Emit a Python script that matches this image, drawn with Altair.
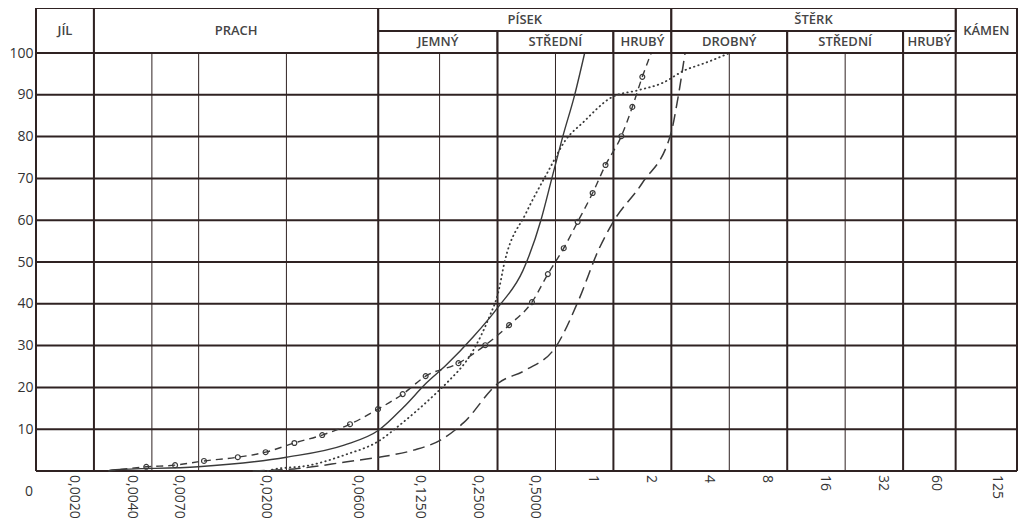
import math
import altair as alt
import pandas as pd

# ---------------- data ----------------
# vertical grid lines (grain size, mm) and their weight
grid_x = [0.001, 0.002, 0.004, 0.007, 0.02, 0.06, 0.125, 0.25, 0.5, 1, 2, 4, 8, 16, 32, 60, 125]
grid_w = [2, 2, 1, 1, 1, 2, 1, 2, 1, 2, 2, 1, 2, 1, 2, 2, 2]

# x tick labels
tick_x = [0.002, 0.004, 0.007, 0.02, 0.06, 0.125, 0.25, 0.5, 1, 2, 4, 8, 16, 32, 60, 125]
tick_lbl = ["0,0020", "0,0040", "0,0070", "0,0200", "0,0600", "0,1250", "0,2500",
            "0,5000", "1", "2", "4", "8", "16", "32", "60", "125"]

# horizontal grid lines (percent passing)
grid_y = [0, 10, 20, 30, 40, 50, 60, 70, 80, 90, 100]
y_lbl = [10, 20, 30, 40, 50, 60, 70, 80, 90, 100]

# header cells
full_names = ["JÍL", "PRACH", "KÁMEN"]
full_from = [0.001, 0.002, 60]
full_to = [0.002, 0.06, 125]
top_names = ["PÍSEK", "ŠTĚRK"]
top_from = [0.06, 2]
top_to = [2, 60]
sub_names = ["JEMNÝ", "STŘEDNÍ", "HRUBÝ", "DROBNÝ", "STŘEDNÍ", "HRUBÝ"]
sub_from = [0.06, 0.25, 1, 2, 8, 32]
sub_to = [0.25, 1, 2, 8, 32, 60]

# curves (grain size mm, percent)
solid_x = [0.00238, 0.00247, 0.00695, 0.0200, 0.0399, 0.0605, 0.0814, 0.1070, 0.1357,
           0.1871, 0.2518, 0.3391, 0.4201, 0.4787, 0.5457, 0.6293, 0.709]
solid_y = [0, 0.24, 1.0, 3.3, 6.2, 9.8, 15.3, 21.1, 25.4, 32.1, 39.2, 48, 60, 70, 80,
           90, 100]

dotted_x = [0.0160, 0.01655, 0.02663, 0.0399, 0.0605, 0.0776, 0.1205, 0.1357, 0.1871,
            0.2263, 0.2518, 0.2720, 0.3514, 0.4618, 0.565, 0.692, 0.989, 1.347, 1.792,
            2.356, 2.988, 4.022]
dotted_y = [0, 0.24, 1.4, 3.8, 7.2, 11, 18.7, 21, 28.9, 36.8, 42.6, 50, 61.7, 72, 79.2,
            83.3, 89.5, 91.1, 92.8, 95.9, 97.6, 100]

dashed_x = [0.01336, 0.0220, 0.0413, 0.0605, 0.0917, 0.1264, 0.1662, 0.2518, 0.3514,
            0.502, 0.660, 0.837, 0.989, 1.413, 1.994, 2.141, 2.356]
dashed_y = [0, 0.5, 2.2, 3.3, 5, 7.4, 11.5, 21, 24.2, 29.7, 40.9, 52.9, 59.3, 68.9,
            80.9, 88, 100]

circ_x = [0.00238, 0.00374, 0.00528, 0.00746, 0.01118, 0.01559, 0.0220, 0.0307, 0.0428,
          0.0598, 0.0804, 0.1058, 0.1566, 0.2158, 0.2871, 0.3775, 0.4565, 0.552, 0.652,
          0.780, 0.910, 1.100, 1.254, 1.413, 1.572]
circ_y = [0, 1, 1.4, 2.4, 3.3, 4.5, 6.7, 8.6, 11.2, 14.8, 18.4, 22.7, 25.8, 30.1, 34.9,
          40.4, 47.1, 53.3, 59.6, 66.5, 73.2, 80.1, 87.1, 94.3, 100]
circ_marker = [False] + [True] * 23 + [False]

# ---------------- styling ----------------
W, H = 981, 418
GRID = "#2f2222"
LINE = "#3a3a3a"
TXT = "#454545"
FONT = "Open Sans"

xs = alt.Scale(type="log", domain=[0.001, 125], nice=False)
ys = alt.Scale(domain=[0, 100], nice=False)

def gmean(a, b):
    return math.sqrt(a * b)

vgrid = pd.DataFrame({"x": grid_x, "w": grid_w})
hgrid = pd.DataFrame({"y": grid_y})
ticks = pd.DataFrame({"x": tick_x, "t": tick_lbl})

v_rules = alt.Chart(vgrid).mark_rule(color=GRID).encode(
    x=alt.X("x:Q", scale=xs, axis=None),
    y=alt.datum(0, scale=ys),
    y2=alt.datum(100),
    strokeWidth=alt.StrokeWidth("w:Q", scale=None),
)

h_rules = alt.Chart(hgrid).mark_rule(color=GRID, strokeWidth=2).encode(
    x=alt.datum(0.001),
    x2=alt.datum(125),
    y=alt.Y("y:Q", scale=ys,
            axis=alt.Axis(values=y_lbl, title=None, domain=False, ticks=False, grid=False,
                          labelFont=FONT, labelFontSize=14, labelColor="#333333",
                          labelPadding=3)),
)

# header
hdr_full = pd.DataFrame({"n": full_names, "a": full_from, "b": full_to,
                         "m": [gmean(a, b) for a, b in zip(full_from, full_to)]})
hdr_top = pd.DataFrame({"n": top_names, "a": top_from, "b": top_to,
                        "m": [gmean(a, b) for a, b in zip(top_from, top_to)]})
hdr_sub = pd.DataFrame({"n": sub_names, "a": sub_from, "b": sub_to,
                        "m": [gmean(a, b) for a, b in zip(sub_from, sub_to)]})

def hdr_cells(df, y0, y1):
    return alt.Chart(df).mark_rect(fill="white", stroke=GRID, strokeWidth=2).encode(
        x="a:Q", x2="b:Q", y=alt.value(y0), y2=alt.value(y1))

def hdr_text(df, yy):
    return alt.Chart(df).mark_text(font=FONT, fontSize=13, fontWeight=600, color=TXT,
                                   baseline="middle", align="center").encode(
        x="m:Q", y=alt.value(yy), text="n:N")

header = (hdr_cells(hdr_full, -45, 0) + hdr_cells(hdr_top, -45, -22) +
          hdr_cells(hdr_sub, -22, 0) + hdr_text(hdr_full, -22) +
          hdr_text(hdr_top, -33) + hdr_text(hdr_sub, -11))

# x labels
x_text = alt.Chart(ticks).mark_text(font=FONT, fontSize=14, color="#333333", angle=90,
                                    align="left", baseline="middle", dx=4, dy=20).encode(
    x="x:Q", y=alt.datum(0), text="t:N")

zero_text = alt.Chart(pd.DataFrame({"x": [0.001], "t": ["0"]})).mark_text(
    font=FONT, fontSize=14, color="#333333", align="center", baseline="middle",
    dx=-7, dy=21).encode(x="x:Q", y=alt.datum(0), text="t:N")

# curves
def curve(xv, yv, **kw):
    return alt.Chart(pd.DataFrame({"x": xv, "y": yv})).mark_line(
        color=LINE, interpolate="monotone", **kw).encode(x="x:Q", y="y:Q")

c_solid = curve(solid_x, solid_y, strokeWidth=1.4)
c_dotted = curve(dotted_x, dotted_y, strokeWidth=1.8, strokeDash=[0.5, 4], strokeCap="round")
c_dashed = curve(dashed_x, dashed_y, strokeWidth=1.5, strokeDash=[12, 6])
c_circ = curve(circ_x, circ_y, strokeWidth=1.4, strokeDash=[7, 5])
circ_df = pd.DataFrame({"x": circ_x, "y": circ_y, "m": circ_marker})
c_marks = alt.Chart(circ_df).transform_filter("datum.m").mark_point(
    shape="circle", size=24, filled=False, color=LINE, strokeWidth=1.2, opacity=1).encode(
    x="x:Q", y="y:Q")

chart = alt.layer(
    v_rules, h_rules, c_solid, c_dotted, c_dashed, c_circ, c_marks,
    header, x_text, zero_text,
).properties(
    width=W, height=H,
    autosize=alt.AutoSizeParams(type="none"),
    padding={"left": 28, "top": 45, "right": 1, "bottom": 48},
    background="white",
).configure_view(stroke=None)

chart.save("out.html", embed_options={"renderer": "svg", "actions": False})
